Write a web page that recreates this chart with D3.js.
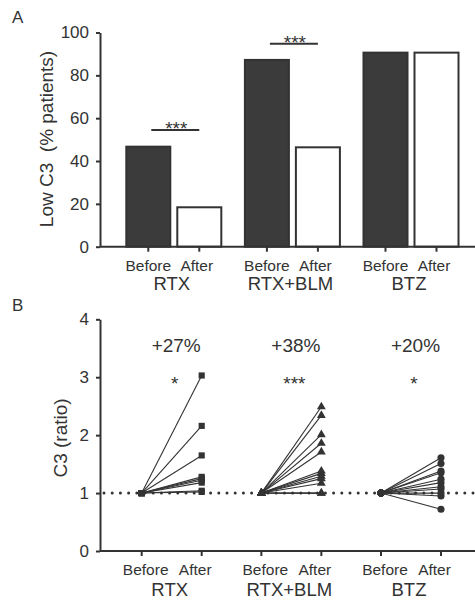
<!DOCTYPE html>
<html>
<head>
<meta charset="utf-8">
<script src="https://cdn.jsdelivr.net/npm/d3@7"></script>
<style>
  html, body { margin: 0; padding: 0; background: #fff; }
  svg { display: block; }
  text { font-family: "Liberation Sans", Arial, Helvetica, sans-serif; fill: #333; }
</style>
</head>
<body>
<svg id="chart" width="475" height="600"></svg>
<script>
// ---------------- DATA ----------------
const groups = ["RTX", "RTX+BLM", "BTZ"];
const phases = ["Before", "After"];

// Panel A: % patients with low C3
const lowC3Before = [46.7, 87.2, 90.6];
const lowC3After  = [18.4, 46.4, 90.6];
const yTicksA = [0, 20, 40, 60, 80, 100];
const sigGroupsA = ["RTX", "RTX+BLM"];
const sigLevelA  = [54.5, 94.8];
const sigLabelA  = ["***", "***"];

// Panel B: C3 ratio (after / before), before = 1 for every patient
const baselineRatio = 1;
const rtxAfter    = [3.03, 2.16, 1.65, 1.28, 1.25, 1.22, 1.18, 1.04, 1.02];
const rtxBlmAfter = [2.49, 2.34, 2.01, 1.86, 1.71, 1.38, 1.34, 1.29, 1.25, 1.17, 1.0, 1.0];
const btzAfter    = [1.61, 1.51, 1.38, 1.35, 1.24, 1.18, 1.11, 1.07, 1.0, 0.95, 0.72];
const yTicksB = [0, 1, 2, 3, 4];
const pctLabels  = ["+27%", "+38%", "+20%"];
const starLabels = ["*", "***", "*"];
const pctLevel  = 3.44;
const starLevel = 2.78;

// ---------------- DRAW ----------------
const svg = d3.select("#chart");
const ink = "#333";
const FONT = '"Liberation Sans", Arial, Helvetica, sans-serif';

// ===== Panel A =====
const yA = d3.scaleLinear().domain([0, 100]).range([246.7, 32.5]);
const xGroupA = d3.scalePoint().domain(groups).range([173.8, 411]);
const xSubA = d3.scaleBand().domain(phases).range([-51, 51]).paddingInner(0.137).paddingOuter(0.0685);

const gA = svg.append("g");

// y axis
const axA = gA.append("g").attr("transform", "translate(100,0)")
  .call(d3.axisLeft(yA).tickValues(yTicksA).tickFormat(d3.format("d")).tickSize(4).tickSizeOuter(0).tickPadding(7));
axA.select(".domain").attr("stroke", ink).attr("stroke-width", 2);
axA.selectAll(".tick line").attr("stroke", ink).attr("stroke-width", 2);
axA.selectAll(".tick text").attr("font-size", 17).attr("font-family", FONT).attr("fill", ink);

// bars
const barsA = [];
groups.forEach((g, i) => {
  barsA.push({ g, p: "Before", v: lowC3Before[i] });
  barsA.push({ g, p: "After", v: lowC3After[i] });
});
gA.selectAll("rect.bar").data(barsA).enter().append("rect")
  .attr("class", "bar")
  .attr("x", d => xGroupA(d.g) + xSubA(d.p))
  .attr("width", xSubA.bandwidth())
  .attr("y", d => yA(d.v))
  .attr("height", d => yA(0) - yA(d.v))
  .attr("fill", d => d.p === "Before" ? "#3b3b3b" : "#fff")
  .attr("stroke", ink).attr("stroke-width", 2);

// x axis line + ticks
gA.append("line").attr("x1", 100).attr("x2", 475).attr("y1", yA(0)).attr("y2", yA(0))
  .attr("stroke", ink).attr("stroke-width", 2);
gA.selectAll("line.xt").data(barsA).enter().append("line").attr("class", "xt")
  .attr("x1", d => xGroupA(d.g) + xSubA(d.p) + xSubA.bandwidth() / 2)
  .attr("x2", d => xGroupA(d.g) + xSubA(d.p) + xSubA.bandwidth() / 2)
  .attr("y1", yA(0)).attr("y2", yA(0) + 5)
  .attr("stroke", ink).attr("stroke-width", 2);

// x labels
gA.selectAll("text.ph").data(barsA).enter().append("text").attr("class", "ph")
  .attr("x", d => xGroupA(d.g) + (d.p === "Before" ? -25.5 : 23))
  .attr("y", 270.5).attr("text-anchor", "middle").attr("font-size", 15.5)
  .text(d => d.p);
gA.selectAll("text.grp").data(groups).enter().append("text").attr("class", "grp")
  .attr("x", d => xGroupA(d) - 2).attr("y", 290).attr("text-anchor", "middle").attr("font-size", 18.5)
  .text(d => d);

// significance
sigGroupsA.forEach((g, i) => {
  const x1 = xGroupA(g) + xSubA("Before") + xSubA.bandwidth() / 2 + 3;
  const x2 = xGroupA(g) + xSubA("After") + xSubA.bandwidth() / 2;
  gA.append("line").attr("x1", x1).attr("x2", x2).attr("y1", yA(sigLevelA[i])).attr("y2", yA(sigLevelA[i]))
    .attr("stroke", ink).attr("stroke-width", 2);
  gA.append("text").attr("x", (x1 + x2) / 2 + 1).attr("y", yA(sigLevelA[i]) + 5.5)
    .attr("text-anchor", "middle").attr("font-size", 19).text(sigLabelA[i]);
});

// y title + panel letter
gA.append("text").attr("transform", "translate(53,139) rotate(-90)")
  .attr("text-anchor", "middle").attr("font-size", 19).attr("xml:space", "preserve")
  .text("Low C3  (% patients)");
gA.append("text").attr("x", 12).attr("y", 23).attr("font-size", 17).text("A");

// ===== Panel B =====
const yB = d3.scaleLinear().domain([0, 4]).range([551, 319.3]);
const xGroupB = d3.scalePoint().domain(groups).range([171.7, 411]);
const xSubB = d3.scalePoint().domain(phases).range([-30, 30]);

const gB = svg.append("g");
const axB = gB.append("g").attr("transform", "translate(100,0)")
  .call(d3.axisLeft(yB).tickValues(yTicksB).tickFormat(d3.format("d")).tickSize(4).tickSizeOuter(0).tickPadding(7));
axB.select(".domain").attr("stroke", ink).attr("stroke-width", 2);
axB.selectAll(".tick line").attr("stroke", ink).attr("stroke-width", 2);
axB.selectAll(".tick text").attr("font-size", 17).attr("font-family", FONT).attr("fill", ink);

// x axis line + ticks
gB.append("line").attr("x1", 100).attr("x2", 475).attr("y1", yB(0)).attr("y2", yB(0))
  .attr("stroke", ink).attr("stroke-width", 2);
const tickB = [];
groups.forEach(g => phases.forEach(p => tickB.push({ g, p })));
gB.selectAll("line.xt").data(tickB).enter().append("line").attr("class", "xt")
  .attr("x1", d => xGroupB(d.g) + xSubB(d.p)).attr("x2", d => xGroupB(d.g) + xSubB(d.p))
  .attr("y1", yB(0)).attr("y2", yB(0) + 5).attr("stroke", ink).attr("stroke-width", 2);

// dotted reference line
gB.append("line").attr("x1", 104).attr("x2", 475).attr("y1", yB(baselineRatio)).attr("y2", yB(baselineRatio))
  .attr("stroke", ink).attr("stroke-width", 3).attr("stroke-linecap", "round")
  .attr("stroke-dasharray", "0 8.2");

// paired lines + markers
const seriesB = [
  { g: "RTX", vals: rtxAfter, sym: d3.symbolSquare, size: 38 },
  { g: "RTX+BLM", vals: rtxBlmAfter, sym: d3.symbolTriangle, size: 34 },
  { g: "BTZ", vals: btzAfter, sym: d3.symbolCircle, size: 40 }
];
seriesB.forEach(s => {
  const xb = xGroupB(s.g) + xSubB("Before");
  const xa = xGroupB(s.g) + xSubB("After");
  const grp = gB.append("g");
  grp.selectAll("line.pair").data(s.vals).enter().append("line").attr("class", "pair")
    .attr("x1", xb).attr("y1", yB(baselineRatio)).attr("x2", xa).attr("y2", d => yB(d))
    .attr("stroke", ink).attr("stroke-width", 1.1);
  const symPath = d3.symbol().type(s.sym).size(s.size)();
  grp.selectAll("path.after").data(s.vals).enter().append("path").attr("class", "after")
    .attr("d", symPath).attr("fill", ink)
    .attr("transform", d => `translate(${xa},${yB(d)})`);
  grp.selectAll("path.before").data(s.vals).enter().append("path").attr("class", "before")
    .attr("d", symPath).attr("fill", ink)
    .attr("transform", `translate(${xb},${yB(baselineRatio)})`);
});

// annotations
groups.forEach((g, i) => {
  gB.append("text").attr("x", xGroupB(g) + 4.5).attr("y", yB(pctLevel)).attr("text-anchor", "middle")
    .attr("font-size", 19).text(pctLabels[i]);
  gB.append("text").attr("x", xGroupB(g) + 3).attr("y", yB(starLevel)).attr("text-anchor", "middle")
    .attr("font-size", 19).text(starLabels[i]);
});

// x labels
gB.selectAll("text.ph").data(tickB).enter().append("text").attr("class", "ph")
  .attr("x", d => xGroupB(d.g) + (d.p === "Before" ? -26 : 23.5))
  .attr("y", 575).attr("text-anchor", "middle").attr("font-size", 15.5).text(d => d.p);
gB.selectAll("text.grp").data(groups).enter().append("text").attr("class", "grp")
  .attr("x", d => xGroupB(d) - 2).attr("y", 596).attr("text-anchor", "middle").attr("font-size", 18.5)
  .text(d => d);

gB.append("text").attr("transform", "translate(67,438) rotate(-90)")
  .attr("text-anchor", "middle").attr("font-size", 19).text("C3 (ratio)");
gB.append("text").attr("x", 12).attr("y", 311).attr("font-size", 17).text("B");
</script>
</body>
</html>
